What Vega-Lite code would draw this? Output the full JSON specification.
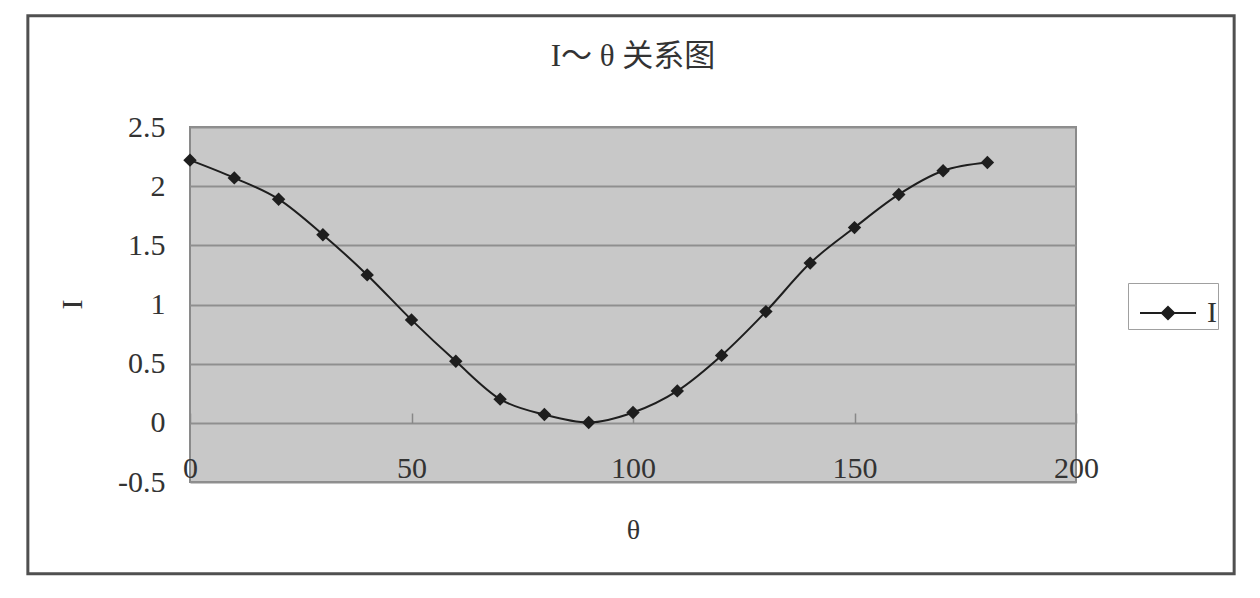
{
  "$schema": "https://vega.github.io/schema/vega-lite/v6.json",
  "width": 886,
  "height": 355,
  "autosize": {"type": "none"},
  "padding": {"left": 190, "top": 127, "right": 184, "bottom": 116},
  "background": "white",
  "title": {
    "text": "I～ θ 关系图",
    "font": "Liberation Serif, Noto Sans CJK SC",
    "fontSize": 31,
    "fontWeight": "normal",
    "color": "#333333",
    "anchor": "middle",
    "frame": "group",
    "baseline": "middle",
    "offset": -39,
    "dy": 35
  },
  "data": {
    "values": [
      {"theta": 0, "I": 2.22, "series": "I"},
      {"theta": 10, "I": 2.07, "series": "I"},
      {"theta": 20, "I": 1.89, "series": "I"},
      {"theta": 30, "I": 1.59, "series": "I"},
      {"theta": 40, "I": 1.25, "series": "I"},
      {"theta": 50, "I": 0.87, "series": "I"},
      {"theta": 60, "I": 0.52, "series": "I"},
      {"theta": 70, "I": 0.2, "series": "I"},
      {"theta": 80, "I": 0.07, "series": "I"},
      {"theta": 90, "I": 0.003, "series": "I"},
      {"theta": 100, "I": 0.087, "series": "I"},
      {"theta": 110, "I": 0.27, "series": "I"},
      {"theta": 120, "I": 0.57, "series": "I"},
      {"theta": 130, "I": 0.94, "series": "I"},
      {"theta": 140, "I": 1.35, "series": "I"},
      {"theta": 150, "I": 1.65, "series": "I"},
      {"theta": 160, "I": 1.93, "series": "I"},
      {"theta": 170, "I": 2.13, "series": "I"},
      {"theta": 180, "I": 2.2, "series": "I"}
    ]
  },
  "layer": [
    {
      "data": {"values": [{}]},
      "mark": {"type": "rect", "fill": "transparent", "stroke": "#505050", "strokeWidth": 3},
      "encoding": {
        "x": {"datum": -36.6, "type": "quantitative"},
        "x2": {"datum": 235.7},
        "y": {"datum": 3.44, "type": "quantitative"},
        "y2": {"datum": -1.275}
      }
    },
    {
      "mark": {"type": "line", "interpolate": "monotone", "strokeWidth": 2},
      "encoding": {
        "x": {
          "field": "theta",
          "type": "quantitative",
          "scale": {"domain": [0, 200], "nice": false, "zero": false},
          "axis": {
            "title": "θ",
            "values": [0, 50, 100, 150, 200],
            "offset": -59,
            "grid": false,
            "domain": false,
            "ticks": true,
            "tickSize": -10,
            "tickColor": "#888888",
            "tickWidth": 1.5,
            "labelPadding": 40,
            "labelFlush": false,
            "labelFont": "Liberation Serif",
            "labelFontSize": 30,
            "labelColor": "#333333",
            "labelBaseline": "top",
            "titleFont": "Liberation Serif",
            "titleFontSize": 28,
            "titleFontWeight": "normal",
            "titleColor": "#333333",
            "titleY": 107,
            "titleBaseline": "middle"
          }
        },
        "y": {
          "field": "I",
          "type": "quantitative",
          "scale": {"domain": [-0.5, 2.5], "nice": false, "zero": false},
          "axis": {
            "title": "I",
            "values": [-0.5, 0, 0.5, 1, 1.5, 2, 2.5],
            "labelExpr": "toString(datum.value)",
            "labelFlush": false,
            "grid": true,
            "gridColor": "#8f8f8f",
            "gridWidth": 2,
            "domain": false,
            "ticks": false,
            "labelPadding": 25,
            "labelFont": "Liberation Serif",
            "labelFontSize": 30,
            "labelColor": "#333333",
            "titleFont": "Liberation Serif",
            "titleFontSize": 30,
            "titleFontWeight": "normal",
            "titleColor": "#333333",
            "titleAngle": 270,
            "titleX": -118,
            "titleY": 177,
            "titleAlign": "center",
            "titleBaseline": "middle"
          }
        },
        "color": {
          "field": "series",
          "type": "nominal",
          "scale": {"range": ["#1e1e1e"]},
          "legend": {
            "title": null,
            "orient": "none",
            "legendX": 938,
            "legendY": 156,
            "strokeColor": "#a0a0a0",
            "fillColor": "white",
            "padding": 1,
            "symbolOffset": 10,
            "symbolType": "M-1,0L1,0M0,-0.22L0.22,0L0,0.22L-0.22,0Z",
            "symbolSize": 3136,
            "symbolStrokeWidth": 2,
            "labelFont": "Liberation Serif",
            "labelFontSize": 30,
            "labelColor": "#333333",
            "labelOffset": 10,
            "labelExpr": "datum.label + '\u00a0'",
            "encode": {
              "symbols": {"update": {"fill": {"value": "#1e1e1e"}, "stroke": {"value": "#1e1e1e"}}}
            }
          }
        }
      }
    },
    {
      "mark": {"type": "point", "shape": "diamond", "filled": true, "size": 180, "color": "#1e1e1e", "opacity": 1},
      "encoding": {
        "x": {"field": "theta", "type": "quantitative"},
        "y": {"field": "I", "type": "quantitative"}
      }
    }
  ],
  "config": {
    "view": {"fill": "#c8c8c8", "stroke": "#8a8a8a", "strokeWidth": 2}
  }
}
